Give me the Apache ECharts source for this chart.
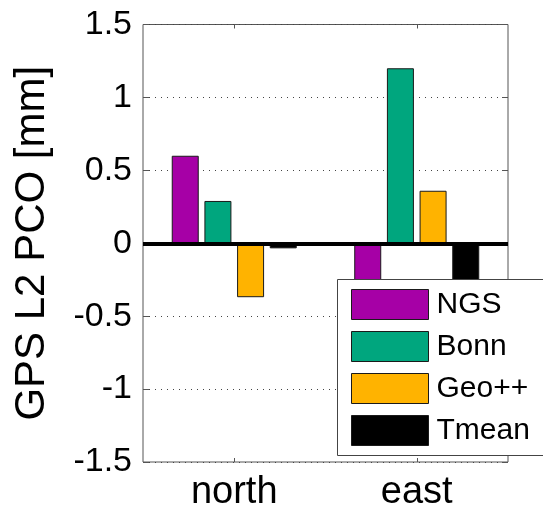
<!DOCTYPE html>
<html>
<head>
<meta charset="utf-8">
<script src="https://cdn.jsdelivr.net/npm/echarts@6/dist/echarts.min.js"></script>
<style>
  html, body { margin: 0; padding: 0; background: #fff; }
  #chart { width: 543px; height: 512px; }
</style>
</head>
<body>
<div id="chart"></div>
<script>
// Phase-centre offsets of the GPS L2 signal per component and source
const categories = ['north', 'east'];
const seriesNames = ['NGS', 'Bonn', 'Geo++', 'Tmean'];
const ngs   = [0.60, -0.45];
const bonn  = [0.29, 1.20];
const geopp = [-0.37, 0.36];
const tmean = [-0.035, -0.30];
const yTicks = [-1.5, -1, -0.5, 0, 0.5, 1, 1.5];

const colors = ['#a600a6', '#00a67e', '#ffb300', '#000000'];
const values = [ngs, bonn, geopp, tmean];
const FONT = "'Liberation Sans', Arial, Helvetica, sans-serif";

const chart = echarts.init(document.getElementById('chart'), null, { renderer: 'canvas' });

const series = seriesNames.map((name, i) => ({
  name: name,
  type: 'bar',
  xAxisIndex: 0,
  yAxisIndex: 0,
  data: values[i],
  barWidth: 27,
  barGap: '21%',
  itemStyle: { color: colors[i], borderColor: '#1a1a1a', borderWidth: 1 },
  emphasis: { disabled: true },
  animation: false
}));

// thick zero line across the plot
series[0].markLine = {
  silent: true,
  symbol: ['none', 'none'],
  label: { show: false },
  lineStyle: { color: '#000', width: 4, type: 'solid' },
  data: [{ yAxis: 0 }],
  animation: false
};

chart.setOption({
  animation: false,
  backgroundColor: '#ffffff',
  grid: {
    left: 143, right: 35, top: 24.5, bottom: 50,
    show: true, borderColor: '#555', borderWidth: 1, backgroundColor: 'transparent'
  },
  // legend panel: white fill plus a frame that is open at the right canvas edge
  graphic: [{
    type: 'rect',
    x: 337.5, y: 279.5,
    shape: { x: 0, y: 0, width: 206, height: 176 },
    style: { fill: '#fff', stroke: null, lineWidth: 0 },
    silent: true,
    z: 8
  }, {
    type: 'polyline',
    x: 0, y: 0,
    shape: { points: [[543, 279.5], [337.5, 279.5], [337.5, 455.5], [543, 455.5]] },
    style: { fill: null, stroke: '#444', lineWidth: 1 },
    silent: true,
    z: 9
  }],
  legend: {
    orient: 'vertical',
    left: 337, top: 279,
    padding: [10, 10, 9, 14],
    itemWidth: 77, itemHeight: 30, itemGap: 11,
    backgroundColor: 'transparent',
    borderWidth: 0,
    icon: 'rect',
    itemStyle: { borderColor: '#1a1a1a', borderWidth: 1 },
    textStyle: { fontFamily: FONT, fontSize: 30, color: '#000', padding: [0, 0, 0, 3] },
    selectedMode: false,
    data: seriesNames,
    z: 10
  },
  xAxis: [{
    type: 'category',
    data: categories,
    position: 'bottom',
    axisLine: { show: false, onZero: false },
    axisTick: { show: true, inside: true, alignWithLabel: true, length: 4, lineStyle: { color: '#555' } },
    axisLabel: { fontFamily: FONT, fontSize: 38, color: '#000', margin: 12 },
    splitLine: { show: false }
  }, {
    type: 'category',
    data: categories,
    position: 'top',
    axisLine: { show: false, onZero: false },
    axisTick: { show: true, inside: true, alignWithLabel: true, length: 4, lineStyle: { color: '#555' } },
    axisLabel: { show: false },
    splitLine: { show: false }
  }],
  yAxis: [{
    type: 'value',
    min: yTicks[0], max: yTicks[yTicks.length - 1], interval: 0.5,
    position: 'left',
    name: 'GPS L2 PCO [mm]',
    nameLocation: 'middle',
    nameRotate: 90,
    nameGap: 90,
    nameTextStyle: { fontFamily: FONT, fontSize: 42, color: '#000' },
    axisLine: { show: false },
    axisTick: { show: true, inside: true, length: 6, lineStyle: { color: '#555' } },
    axisLabel: { fontFamily: FONT, fontSize: 34, color: '#000', margin: 11 },
    splitLine: { show: true, lineStyle: { color: '#444', type: [1, 5], width: 1 } }
  }, {
    type: 'value',
    min: yTicks[0], max: yTicks[yTicks.length - 1], interval: 0.5,
    position: 'right',
    axisLine: { show: false },
    axisTick: { show: true, inside: true, length: 6, lineStyle: { color: '#555' } },
    axisLabel: { show: false },
    splitLine: { show: false }
  }],
  series: series
});
</script>
</body>
</html>
